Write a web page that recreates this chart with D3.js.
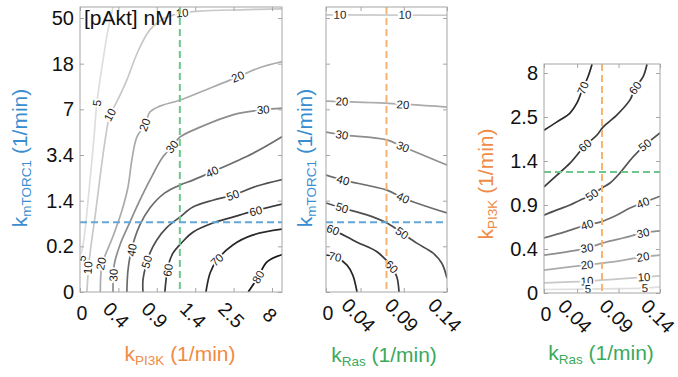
<!DOCTYPE html>
<html>
<head>
<meta charset="utf-8">
<script src="https://cdn.jsdelivr.net/npm/d3@7"></script>
<style>
  html, body { margin: 0; padding: 0; background: #fff; }
  svg { display: block; font-family: "Liberation Sans", Arial, Helvetica, sans-serif; }
</style>
</head>
<body>
<svg id="chart" width="678" height="377"></svg>
<script>
// ---- Axis tick labels (kPI3K and kmTORC1 axes are sampled on grid indices) ----
const kPI3KTicks = ["0", "0.4", "0.9", "1.4", "2.5", "8"];
const kmTORC1Ticks = ["0", "0.2", "1.4", "3.4", "7", "18", "50"];
const kRasTicks = [0, 0.04, 0.09, 0.14];

// ---- Reference parameter values (grid index for kPI3K / kmTORC1, 1/min for kRas) ----
const refPI3KIndex = 2.6;       // on the kPI3K grid of the left panel
const refPI3KIndexRight = 2.75; // on the kPI3K grid of the right panel
const refMTORC1Index = 1.53;
const refRas = 0.07;

// ---- pAkt iso-lines: kPI3K (grid index) vs kmTORC1 (grid index) ----
const isoPI3KvsMTORC1 = [
  { level: 5,  pts: [[0.86,6.24],[0.73,5.74],[0.6,5.08],[0.44,4.14],[0.36,3.33],[0.26,2.45],[0.16,1.58],[0.08,1.03],[0,0.74]] },
  { level: 10, pts: [[5.3,6.2],[4.17,6.18],[3.13,6.15],[2.66,6.11],[2.21,6.0],[1.82,5.74],[1.5,5.25],[1.2,4.6],[0.95,4.15],[0.78,3.88],[0.65,3.3],[0.52,2.5],[0.4,1.7],[0.3,1.1],[0.23,0.6],[0.18,0]] },
  { level: 20, pts: [[5.3,5.05],[4.64,4.9],[4.11,4.71],[3.46,4.49],[2.6,4.2],[2.08,4.07],[1.82,3.94],[1.69,3.66],[1.48,3.39],[1.35,2.89],[1.25,2.3],[1.08,1.75],[0.85,1.2],[0.62,0.72],[0.55,0.45],[0.53,0]] },
  { level: 30, pts: [[5.3,4.03],[4.77,3.99],[3.98,3.88],[3.13,3.61],[2.6,3.39],[2.4,3.18],[2.16,2.96],[1.82,2.45],[1.56,2.01],[1.3,1.53],[1.04,1.03],[0.89,0.59],[0.86,0]] },
  { level: 40, pts: [[5.3,3.42],[4.51,3.04],[3.44,2.63],[2.94,2.45],[2.6,2.34],[2.21,2.17],[1.82,1.84],[1.56,1.47],[1.35,0.96],[1.25,0.48],[1.22,0]] },
  { level: 50, pts: [[5.3,2.47],[4.61,2.32],[3.98,2.12],[3.46,2.01],[2.94,1.86],[2.6,1.64],[2.27,1.42],[2.0,1.14],[1.82,0.85],[1.72,0.59],[1.64,0.26],[1.64,0]] },
  { level: 60, pts: [[5.3,1.93],[4.51,1.77],[3.98,1.64],[3.46,1.51],[2.94,1.31],[2.66,1.09],[2.42,0.85],[2.29,0.55],[2.24,0.26],[2.21,0]] },
  { level: 70, pts: [[5.3,1.38],[4.51,1.25],[3.98,1.03],[3.57,0.7],[3.39,0.42],[3.28,0]] },
  { level: 80, pts: [[5.3,0.83],[4.87,0.66],[4.64,0.33],[4.38,0]] }
];
const tagsPI3KvsMTORC1 = [
  [5,0.44,4.14],[10,0.78,3.88],[10,2.66,6.11],[20,4.11,4.71],[20,1.69,3.66],[30,4.77,3.99],[30,2.4,3.18],
  [40,3.44,2.63],[50,3.98,2.12],[60,4.58,1.77],[70,3.57,0.7],[80,4.64,0.33],
  [5,0.05,0.74],[10,0.21,0.53],[20,0.55,0.62],[30,0.87,0.37],[40,1.35,0.92],[50,1.74,0.66],[60,2.29,0.48]
];

// ---- pAkt iso-lines: kRas (1/min) vs kmTORC1 (grid index) ----
const isoRasVsMTORC1 = [
  { level: 10, pts: [[0,6.07],[0.14,6.06]] },
  { level: 20, pts: [[0,4.18],[0.0625,4.14],[0.14,4.05]] },
  { level: 30, pts: [[0,3.5],[0.0185,3.44],[0.0706,3.33],[0.089,3.18],[0.112,3.0],[0.14,2.78]] },
  { level: 40, pts: [[0,2.56],[0.0197,2.45],[0.0706,2.23],[0.089,2.06],[0.14,1.73]] },
  { level: 50, pts: [[0,1.95],[0.0185,1.84],[0.0475,1.69],[0.0706,1.51],[0.088,1.29],[0.105,1.07],[0.124,0.85],[0.134,0.63],[0.14,0.3]] },
  { level: 60, pts: [[0,1.42],[0.0081,1.36],[0.0359,1.09],[0.059,0.88],[0.076,0.55],[0.082,0.33],[0.0845,0]] },
  { level: 70, pts: [[0,0.81],[0.0104,0.77],[0.0243,0.59],[0.031,0.37],[0.0359,0]] }
];
const tagsRasVsMTORC1 = [
  [10,0.0162,6.07],[10,0.0914,6.07],[20,0.0185,4.17],[20,0.089,4.1],[30,0.0185,3.44],[30,0.089,3.18],
  [40,0.0197,2.45],[40,0.089,2.06],[50,0.0185,1.84],[50,0.088,1.29],[60,0.0081,1.36],[60,0.076,0.55],[70,0.0104,0.77]
];

// ---- pAkt iso-lines: kRas (1/min) vs kPI3K (grid index) ----
const isoRasVsPI3K = [
  { level: 70, pts: [[0,3.7],[0.0157,3.89],[0.0314,4.09],[0.0398,4.32],[0.047,4.66],[0.053,4.91],[0.058,5.2]] },
  { level: 60, pts: [[0.1243,5.2],[0.1195,4.91],[0.11,4.66],[0.1038,4.39],[0.0881,4.05],[0.0712,3.77],[0.064,3.59],[0.0495,3.35],[0.0314,2.95],[0.0157,2.68],[0,2.41]] },
  { level: 50, pts: [[0.14,3.64],[0.1219,3.36],[0.1074,3.09],[0.0917,2.73],[0.0797,2.5],[0.07,2.39],[0.0579,2.23],[0.0434,2.11],[0.0314,2.0],[0.0157,1.89],[0,1.77]] },
  { level: 40, pts: [[0,1.25],[0.0253,1.39],[0.0519,1.55],[0.0676,1.61],[0.0857,1.75],[0.1038,1.93],[0.1195,2.05],[0.14,2.2]] },
  { level: 30, pts: [[0,0.86],[0.0519,1.02],[0.0712,1.14],[0.0953,1.25],[0.1195,1.36],[0.14,1.41]] },
  { level: 20, pts: [[0,0.52],[0.0519,0.64],[0.0797,0.7],[0.1195,0.82],[0.14,0.86]] },
  { level: 10, pts: [[0,0.23],[0.0519,0.27],[0.0917,0.32],[0.1207,0.36],[0.14,0.39]] },
  { level: 5,  pts: [[0,0.08],[0.053,0.09],[0.0917,0.1],[0.1219,0.11],[0.14,0.14]] }
];
const tagsRasVsPI3K = [
  [70,0.047,4.66],[60,0.11,4.66],[60,0.0495,3.35],[50,0.1219,3.36],[50,0.0579,2.23],
  [40,0.0519,1.55],[40,0.1195,2.05],[30,0.0519,1.02],[30,0.1195,1.36],[20,0.0519,0.64],[20,0.1195,0.82],
  [10,0.0519,0.27],[10,0.1207,0.36],[5,0.053,0.09],[5,0.1219,0.11]
];

// ---- Styling ----
const BLUE = "#3a8dd0", ORANGE = "#ef8b45", GREEN = "#3aaa5c";
const DASH_BLUE = "#62a6da", DASH_ORANGE = "#f6b470", DASH_GREEN = "#6cc78c";
const FRAME = "#a6a6a6";
const levelGray = d3.scaleLinear()
  .domain([5, 10, 20, 30, 40, 50, 60, 70, 80])
  .range(["#dedede", "#c8c8c8", "#ababab", "#8d8d8d", "#6c6c6c", "#4f4f4f", "#393939", "#272727", "#191919"]);

const svg = d3.select("#chart");
const defs = svg.append("defs");

// direction of the iso-line segment closest to a label, kept readable (never upside down)
function segAngle(pts, px, py) {
  let best = Infinity, ang = 0;
  for (let i = 0; i < pts.length - 1; i++) {
    const [ax, ay] = pts[i], [bx, by] = pts[i + 1];
    const dx = bx - ax, dy = by - ay, L = dx * dx + dy * dy;
    let t = L ? ((px - ax) * dx + (py - ay) * dy) / L : 0;
    t = Math.max(0, Math.min(1, t));
    const qx = ax + t * dx, qy = ay + t * dy;
    const d = (px - qx) ** 2 + (py - qy) ** 2;
    if (d < best) { best = d; ang = Math.atan2(dy, dx) * 180 / Math.PI; }
  }
  if (ang >= 90) ang -= 180;
  if (ang < -90) ang += 180;
  return ang;
}

function drawPanel(id, x, y, box, iso, tags) {
  const [x0, x1, y0, y1] = box; // frame: left, right, top, bottom
  defs.append("clipPath").attr("id", id)
    .append("rect").attr("x", x0).attr("y", y0).attr("width", x1 - x0).attr("height", y1 - y0);
  const g = svg.append("g");
  g.append("rect").attr("x", x0).attr("y", y0).attr("width", x1 - x0).attr("height", y1 - y0).attr("fill", "#fff");
  const plot = g.append("g").attr("clip-path", `url(#${id})`);
  const line = d3.line().x(d => x(d[0])).y(d => y(d[1])).curve(d3.curveCatmullRom.alpha(0.5));
  plot.selectAll("path.iso").data(iso).join("path")
    .attr("class", "iso")
    .attr("d", d => line(d.pts))
    .attr("fill", "none")
    .attr("stroke", d => levelGray(d.level))
    .attr("stroke-width", 1.7)
    .attr("stroke-linejoin", "round");
  const byLevel = new Map(iso.map(d => [d.level, d.pts.map(p => [x(p[0]), y(p[1])])]));
  plot.selectAll("text.tag").data(tags).join("text")
    .attr("class", "tag")
    .attr("transform", d => {
      const px = x(d[1]), py = y(d[2]);
      const a = segAngle(byLevel.get(d[0]), px, py);
      return `translate(${px},${py}) rotate(${a})`;
    })
    .attr("text-anchor", "middle")
    .attr("dominant-baseline", "central")
    .attr("font-size", 11.5)
    .attr("fill", "#1a1a1a")
    .attr("stroke", "#fff")
    .attr("stroke-width", 3.5)
    .attr("paint-order", "stroke")
    .text(d => d[0]);
  return { g, plot };
}

function frameAndTicks(g, x, y, box, xVals, yVals) {
  const [x0, x1, y0, y1] = box;
  const tick = a => a.tickSizeInner(-4).tickSizeOuter(0).tickFormat("");
  const axes = [
    [d3.axisBottom(x).tickValues(xVals), `translate(0,${y1})`],
    [d3.axisTop(x).tickValues(xVals), `translate(0,${y0})`],
    [d3.axisLeft(y).tickValues(yVals), `translate(${x0},0)`],
    [d3.axisRight(y).tickValues(yVals), `translate(${x1},0)`]
  ];
  axes.forEach(([ax, tr]) => {
    const a = g.append("g").attr("transform", tr).call(tick(ax));
    a.select(".domain").remove();
    a.selectAll("line").attr("stroke", FRAME);
  });
  g.append("rect").attr("x", x0).attr("y", y0).attr("width", x1 - x0).attr("height", y1 - y0)
    .attr("fill", "none").attr("stroke", FRAME).attr("stroke-width", 1);
}

function bottomLabels(g, x, y1, vals, fmt) {
  g.selectAll(null).data(vals).join("text")
    .attr("transform", (d, i) => i === 0
      ? `translate(${x(d) + 2},${y1 + 21})`
      : `translate(${x(d) - 2},${y1 + 23}) rotate(45)`)
    .attr("text-anchor", "middle")
    .attr("dominant-baseline", "central")
    .attr("font-size", 19.5)
    .attr("fill", "#111")
    .text(fmt);
}

function leftLabels(g, y, x0, vals, fmt) {
  const ax = d3.axisLeft(y).tickValues(vals).tickFormat(fmt).tickSize(0).tickPadding(6);
  const a = g.append("g").attr("transform", `translate(${x0},0)`).call(ax);
  a.select(".domain").remove();
  a.selectAll("text").attr("font-size", 20).attr("fill", "#111").attr("font-family", null);
}

function title(g, sub, color, cx, cy, rot) {
  const t = g.append("text")
    .attr("transform", `translate(${cx},${cy}) rotate(${rot})`)
    .attr("text-anchor", "middle")
    .attr("fill", color)
    .attr("font-size", 21);
  t.append("tspan").text("k");
  t.append("tspan").attr("font-size", 13.5).attr("dy", 4).text(sub);
  t.append("tspan").attr("dy", -4).text(" (1/min)");
}

function dashed(g, x1, y1, x2, y2, color) {
  g.append("line").attr("x1", x1).attr("y1", y1).attr("x2", x2).attr("y2", y2)
    .attr("stroke", color).attr("stroke-width", 2).attr("stroke-dasharray", "7,4");
}

// ---- Left panel: kPI3K vs kmTORC1 ----
const box1 = [80, 282, 7, 292];
const x1s = d3.scaleLinear().domain([0, 5]).range([80, 272]);
const y1s = d3.scaleLinear().domain([0, 6]).range([292, 18]);
const p1 = drawPanel("clipA", x1s, y1s, box1, isoPI3KvsMTORC1, tagsPI3KvsMTORC1);
dashed(p1.plot, x1s(refPI3KIndex), box1[2], x1s(refPI3KIndex), box1[3], DASH_GREEN);
dashed(p1.plot, box1[0], y1s(refMTORC1Index), box1[1], y1s(refMTORC1Index), DASH_BLUE);
frameAndTicks(p1.g, x1s, y1s, box1, d3.range(kPI3KTicks.length), d3.range(kmTORC1Ticks.length));
bottomLabels(p1.g, x1s, box1[3], d3.range(kPI3KTicks.length), i => kPI3KTicks[i]);
leftLabels(p1.g, y1s, box1[0], d3.range(kmTORC1Ticks.length), i => kmTORC1Ticks[i]);
p1.g.append("text").attr("x", 84).attr("y", 25).attr("font-size", 21).attr("fill", "#111").text("[pAkt] nM");
title(p1.g, "PI3K", ORANGE, 180, 361, 0);
title(p1.g, "mTORC1", BLUE, 27, 158, -90);

// ---- Middle panel: kRas vs kmTORC1 ----
const box2 = [326, 447, 7, 292];
const x2s = d3.scaleLinear().domain([0, 0.14]).range([326, 447]);
const p2 = drawPanel("clipB", x2s, y1s, box2, isoRasVsMTORC1, tagsRasVsMTORC1);
dashed(p2.plot, x2s(refRas), box2[2], x2s(refRas), box2[3], DASH_ORANGE);
dashed(p2.plot, box2[0], y1s(refMTORC1Index), box2[1], y1s(refMTORC1Index), DASH_BLUE);
frameAndTicks(p2.g, x2s, y1s, box2, kRasTicks, d3.range(kmTORC1Ticks.length));
bottomLabels(p2.g, x2s, box2[3], kRasTicks, d => String(d));
title(p2.g, "Ras", GREEN, 384, 362, 0);
title(p2.g, "mTORC1", BLUE, 312, 158, -90);

// ---- Right panel: kRas vs kPI3K ----
const box3 = [544, 660, 64, 293];
const x3s = d3.scaleLinear().domain([0, 0.14]).range([544, 660]);
const y3s = d3.scaleLinear().domain([0, 5]).range([293, 73]);
const p3 = drawPanel("clipC", x3s, y3s, box3, isoRasVsPI3K, tagsRasVsPI3K);
dashed(p3.plot, x3s(refRas), box3[2], x3s(refRas), box3[3], DASH_ORANGE);
dashed(p3.plot, box3[0], y3s(refPI3KIndexRight), box3[1], y3s(refPI3KIndexRight), DASH_GREEN);
frameAndTicks(p3.g, x3s, y3s, box3, kRasTicks, d3.range(kPI3KTicks.length));
bottomLabels(p3.g, x3s, box3[3], kRasTicks, d => String(d));
leftLabels(p3.g, y3s, box3[0], d3.range(kPI3KTicks.length), i => kPI3KTicks[i]);
title(p3.g, "Ras", GREEN, 601, 360, 0);
title(p3.g, "PI3K", ORANGE, 493, 184, -90);
</script>
</body>
</html>
